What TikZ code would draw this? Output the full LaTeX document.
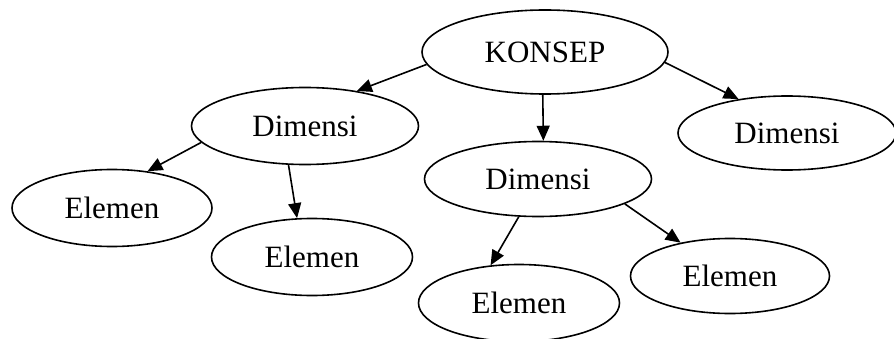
\documentclass[tikz,border=0pt]{standalone}
\usepackage{fontspec}
\setmainfont{Liberation Serif}
\usetikzlibrary{shapes.geometric,arrows.meta}
\begin{document}
\begin{tikzpicture}[x=1pt,y=1pt,
  oval/.style={ellipse,draw,line width=1.6pt,inner sep=0pt,font=\fontsize{31}{37}\selectfont},
  arr/.style={line width=1.6pt,-{Triangle[length=15pt,width=13pt]}}]
\useasboundingbox (0,0) rectangle (894,338);
\node[oval,minimum width=246pt,minimum height=84pt] (k) at (545,286) {KONSEP};
\node[oval,minimum width=227pt,minimum height=77pt] (d1) at (305,212) {Dimensi};
\node[oval,minimum width=227pt,minimum height=75pt] (d2) at (538,159) {Dimensi};
\node[oval,minimum width=218pt,minimum height=74pt] (d3) at (787,205) {Dimensi};
\node[oval,minimum width=200pt,minimum height=77pt] (e1) at (112,130) {Elemen};
\node[oval,minimum width=201pt,minimum height=77pt] (e2) at (312,81) {Elemen};
\node[oval,minimum width=201pt,minimum height=77pt] (e3) at (519,35) {Elemen};
\node[oval,minimum width=199pt,minimum height=75pt] (e4) at (730,62) {Elemen};
\draw[arr] (k.186) -- (d1.34);
\draw[arr] (k.267) -- (d2.82);
\draw[arr] (k.355) -- (d3.145);
\draw[arr] (d1.189) -- (e1.46);
\draw[arr] (d1.247) -- (e2.111);
\draw[arr] (d2.243) -- (e3.127);
\draw[arr] (d2.344) -- (e4.146);
\end{tikzpicture}
\end{document}
